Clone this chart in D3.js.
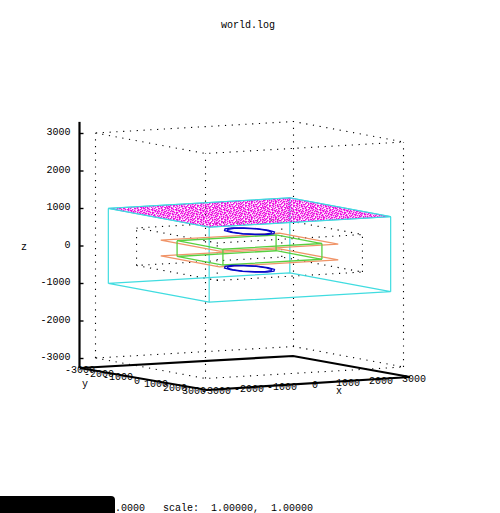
<!DOCTYPE html>
<html>
<head>
<meta charset="utf-8">
<script src="https://d3js.org/d3.v7.min.js"></script>
<style>
html, body { margin: 0; padding: 0; background: #fff; }
svg { display: block; }
text { font-family: "Liberation Mono", monospace; font-size: 10px; fill: #000; }
</style>
</head>
<body>
<script>
const tickValues = [-3000, -2000, -1000, 0, 1000, 2000, 3000];

// boxes in world units
const outerBox = { x: 3000, y: 3000, zLow: -3000, zHigh: 3000 };
const innerBox = { x: 2200, y: 2200, zLow: -500, zHigh: 500 };
const cyanBox = { x: 2750, y: 2750, zLow: -1000, zHigh: 1000 };
const greenBox = { x: 1500, y: 1250, zLow: -210, zHigh: 210 };

const orangeX = 1800, orangeY = 1600;
const orangeLevels = [210, -210];
const magentaLevel = 1000;

// the base loop of the axes sits a bit outside the grid
const baseX = [-3328, -3119, 3182, 3080];
const baseY = [-3258, 3295, 3030, -3171];
const baseZ = -3273;

// blue rings, read as closed outlines at z = +-500
const ringLevels = [500, -500];
const ringOuterX = [560, 490, 280, 0, -280, -490, -560, -490, -280, 0, 280, 490];
const ringOuterY = [0, 480, 830, 960, 830, 480, 0, -480, -830, -960, -830, -480];
const ringInnerX = [510, 440, 250, 0, -250, -440, -510, -440, -250, 0, 250, 440];
const ringInnerY = [0, 420, 730, 840, 730, 420, 0, -420, -730, -840, -730, -420];

// The magenta cloud holds thousands of single points that can't be read one
// by one, so it is drawn as a stippled fill of its plane, not as data points.
const stipple = [
  "#..##...#.#...##.#...#.#",
  ".#...#.##...#.....#.#...",
  "#..#....#.##..#..##...#.",
  "..#.##.....#.#.#....##..",
  "#.....#.##...#...#.#...#",
  ".##.#...#...#.#.#...#.#.",
  "#...##.#..#.....#.##....",
  ".#.......##..#.#...#.#.#",
  "#..#.#.#...#..#..#.....#",
  "...#...#.#.##...#..##.#.",
  "#.#..##....#..#...#.....",
  ".#...#..##.#.....#..#.##",
  "#..#.....#...#.##...#...",
  "..#..##.#..#.#.....#..#.",
  "##...#...#...##.#.#...#.",
  ".#.#...#...#.....#..##.#"
];

const width = 500, height = 513;
const centerX = 249.5, centerY = 250;

const xToLeft = d3.scaleLinear([-3000, 3000], [-99, 99]);
const yToLeft = d3.scaleLinear([-3000, 3000], [-55, 55]);
const xToTop = d3.scaleLinear([-3000, 3000], [5.75, -5.75]);
const yToTop = d3.scaleLinear([-3000, 3000], [-10.25, 10.25]);
const zToTop = d3.scaleLinear([-3000, 3000], [112.5, -112.5]);

function project(x, y, z) {
  return [
    centerX + xToLeft(x) + yToLeft(y),
    centerY + xToTop(x) + yToTop(y) + zToTop(z)
  ];
}

const svg = d3.select("body").append("svg")
  .attr("width", width)
  .attr("height", height);

const defs = svg.append("defs");
const tile = defs.append("pattern")
  .attr("id", "stipple")
  .attr("patternUnits", "userSpaceOnUse")
  .attr("width", stipple[0].length)
  .attr("height", stipple.length);
stipple.forEach((row, j) => {
  row.split("").forEach((c, i) => {
    if (c === "#") {
      tile.append("rect").attr("x", i).attr("y", j)
        .attr("width", 1.4).attr("height", 1.4).attr("fill", "#ee10e0");
    }
  });
});

const line = d3.line().curve(d3.curveLinearClosed);
const plot = svg.append("g").attr("fill", "none");

function loop(xs, ys, z) {
  return line(xs.map((x, i) => project(x, ys[i], z)));
}

function drawBox(box, style) {
  const xs = [-box.x, -box.x, box.x, box.x];
  const ys = [-box.y, box.y, box.y, -box.y];
  const paths = [loop(xs, ys, box.zLow), loop(xs, ys, box.zHigh)];
  xs.forEach((x, i) => {
    const a = project(x, ys[i], box.zLow), b = project(x, ys[i], box.zHigh);
    paths.push(d3.line()([a, b]));
  });
  plot.selectAll(null).data(paths).join("path")
    .attr("d", d => d)
    .attr("stroke", style.color)
    .attr("stroke-width", style.width)
    .attr("stroke-dasharray", style.dash);
}

drawBox(outerBox, { color: "#000", width: 1.1, dash: "1.2,5.6" });
drawBox(innerBox, { color: "#000", width: 1.1, dash: "1.2,5.6" });
drawBox(cyanBox, { color: "#40dce0", width: 1.2, dash: null });

// orange planes
const orangeXs = [-orangeX, -orangeX, orangeX, orangeX];
const orangeYs = [-orangeY, orangeY, orangeY, -orangeY];
plot.selectAll(null).data(orangeLevels).join("path")
  .attr("d", z => loop(orangeXs, orangeYs, z))
  .attr("stroke", "#f09468")
  .attr("stroke-width", 1.3);

drawBox(greenBox, { color: "#58d040", width: 1.3, dash: null });

// blue rings
ringLevels.forEach(z => {
  plot.append("path").attr("d", loop(ringOuterX, ringOuterY, z))
    .attr("stroke", "#0808c8").attr("stroke-width", 1.3);
  plot.append("path").attr("d", loop(ringInnerX, ringInnerY, z))
    .attr("stroke", "#0808c8").attr("stroke-width", 1.3);
});

// magenta plane on top of the cyan box
const topXs = [-cyanBox.x, -cyanBox.x, cyanBox.x, cyanBox.x];
const topYs = [-cyanBox.y, cyanBox.y, cyanBox.y, -cyanBox.y];
plot.append("path")
  .attr("d", loop(topXs, topYs, magentaLevel))
  .attr("fill", "url(#stipple)");
plot.append("path")
  .attr("d", loop(topXs, topYs, magentaLevel))
  .attr("stroke", "#40dce0")
  .attr("stroke-width", 1);

// axes
const axisLeftX = project(-3000, -3000, 0)[0] - 16;
const zAxis = d3.scaleLinear([-3000, 3000],
  [project(-3000, -3000, -3000)[1], project(-3000, -3000, 3000)[1]]);

svg.append("path")
  .attr("d", loop(baseX, baseY, baseZ))
  .attr("fill", "none")
  .attr("stroke", "#000")
  .attr("stroke-width", 2.2);

const zGroup = svg.append("g")
  .attr("transform", `translate(${axisLeftX},0)`)
  .call(d3.axisLeft(zAxis)
    .tickValues(tickValues)
    .tickFormat(d => String(d))
    .tickSizeOuter(0)
    .tickSizeInner(-4)
    .tickPadding(9));
zGroup.select(".domain").remove();
zGroup.selectAll(".tick line").attr("stroke", "#000").attr("stroke-width", 1.4);
zGroup.attr("font-family", null).attr("font-size", null);
zGroup.selectAll("text").attr("dy", "0.15em");

svg.append("line")
  .attr("x1", axisLeftX).attr("x2", axisLeftX)
  .attr("y1", zAxis(3270) - 1).attr("y2", zAxis(-3270))
  .attr("stroke", "#000").attr("stroke-width", 2.2);

// tick labels run along the front edges of the base
const yLabelX = d3.scaleLinear([-3000, 3000], [80, 194]);
const yLabelY = d3.scaleLinear([-3000, 3000], [373, 394]);
const xLabelX = d3.scaleLinear([-3000, 3000], [216, 414]);
const xLabelY = d3.scaleLinear([-3000, 3000], [394, 382]);

svg.selectAll(null).data(tickValues).join("text")
  .attr("x", d => yLabelX(d)).attr("y", d => yLabelY(d))
  .attr("text-anchor", "middle").text(d => d);
svg.selectAll(null).data(tickValues).join("text")
  .attr("x", d => xLabelX(d)).attr("y", d => xLabelY(d))
  .attr("text-anchor", "middle").text(d => d);

function label(x, y, s, anchor) {
  return svg.append("text").attr("x", x).attr("y", y)
    .attr("text-anchor", anchor || "middle")
    .attr("xml:space", "preserve").style("white-space", "pre").text(s);
}
label(248, 28, "world.log");
label(24, 250, "z");
label(85, 387, "y");
label(339, 394, "x");

// status line, its start is hidden by the black box
label(109, 511, "1.0000   scale:  1.00000,  1.00000", "start");
svg.append("path")
  .attr("d", "M0,496H111Q115,496 115,500V513H0Z")
  .attr("fill", "#000");
</script>
</body>
</html>
